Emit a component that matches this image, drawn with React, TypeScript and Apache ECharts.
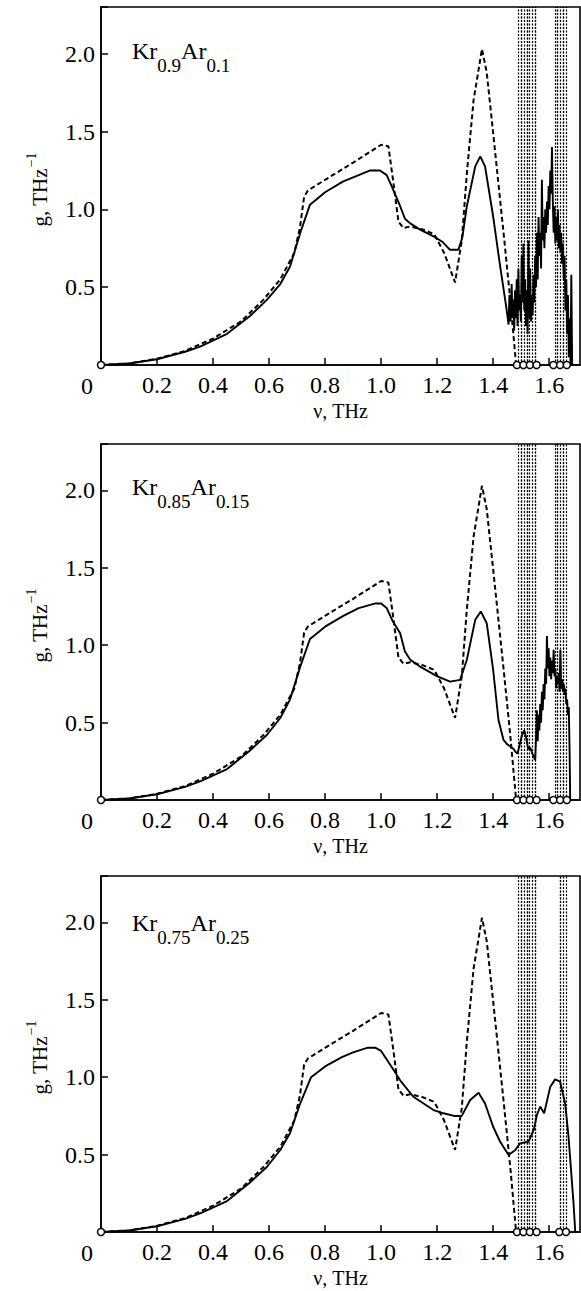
import React, { useEffect, useRef } from "react";
import * as echarts from "echarts";

const FONT = "'Liberation Serif','Times New Roman',serif";
const X_MAX = 1.71;
const Y_MAX = 2.3;

// composition labels
const compMain = ["Kr", "Ar"];
const compSubs = [
  ["0.9", "0.1"],
  ["0.85", "0.15"],
  ["0.75", "0.25"],
];

// dashed reference curve (same in all panels)
const nuRef = [0, 0.1, 0.2, 0.3, 0.4, 0.5, 0.58, 0.64, 0.69, 0.71, 0.725, 0.738, 0.8, 0.9, 1.0, 1.026, 1.044, 1.062, 1.08, 1.104, 1.15, 1.19, 1.225, 1.264, 1.288, 1.306, 1.33, 1.36, 1.377, 1.4, 1.437, 1.461, 1.482];
const gRef = [0, 0.01, 0.04, 0.09, 0.17, 0.28, 0.42, 0.55, 0.72, 0.88, 1.08, 1.12, 1.19, 1.3, 1.415, 1.405, 1.17, 0.92, 0.88, 0.89, 0.87, 0.84, 0.72, 0.53, 0.8, 1.23, 1.7, 2.03, 1.88, 1.49, 0.85, 0.42, 0];

// solid curve, Kr0.9Ar0.1
const nu1 = [0, 0.1, 0.2, 0.3, 0.354, 0.45, 0.532, 0.592, 0.64, 0.675, 0.711, 0.746, 0.8, 0.865, 0.92, 0.961, 0.996, 1.02, 1.038, 1.068, 1.085, 1.104, 1.139, 1.187, 1.22, 1.246, 1.276, 1.29, 1.306, 1.336, 1.354, 1.371, 1.4, 1.425, 1.443,
  1.45, 1.455, 1.458, 1.462, 1.466, 1.469, 1.472, 1.475, 1.478, 1.481, 1.484, 1.487, 1.49, 1.493, 1.496, 1.499, 1.502, 1.505, 1.508, 1.511, 1.514, 1.517, 1.52, 1.523, 1.526, 1.529, 1.532, 1.535, 1.538, 1.541, 1.544, 1.547, 1.55, 1.553, 1.556, 1.559, 1.562, 1.565, 1.568, 1.571, 1.574, 1.577, 1.58, 1.583, 1.586, 1.589, 1.592, 1.595, 1.598, 1.601, 1.604, 1.607, 1.61, 1.613, 1.616, 1.619, 1.622, 1.625, 1.628, 1.631, 1.634, 1.637, 1.64, 1.643, 1.646, 1.649, 1.652, 1.655, 1.658, 1.661, 1.664, 1.667, 1.67, 1.673, 1.676, 1.679, 1.682];
const g1 = [0, 0.01, 0.037, 0.085, 0.118, 0.2, 0.315, 0.418, 0.52, 0.633, 0.847, 1.03, 1.11, 1.18, 1.22, 1.25, 1.25, 1.22, 1.147, 1.02, 0.94, 0.91, 0.87, 0.826, 0.79, 0.74, 0.74, 0.82, 1.02, 1.276, 1.34, 1.276, 0.954, 0.633, 0.418,
  0.33, 0.26, 0.45, 0.28, 0.52, 0.3, 0.42, 0.22, 0.48, 0.3, 0.55, 0.25, 0.62, 0.35, 0.45, 0.28, 0.7, 0.4, 0.78, 0.35, 0.55, 0.25, 0.48, 0.2, 0.8, 0.3, 0.62, 0.28, 0.45, 0.32, 0.58, 0.4, 0.7, 0.5, 0.85, 0.55, 0.95, 0.7, 0.85, 0.62, 1.19, 0.8, 0.95, 0.75, 1.0, 0.85, 1.05, 0.9, 1.15, 1.0, 1.25, 1.1, 1.4, 1.05, 0.85, 1.02, 0.78, 0.95, 0.8, 1.0, 0.75, 0.9, 0.72, 0.85, 0.65, 0.78, 0.55, 0.7, 0.35, 0.55, 0.2, 0.45, 0.05, 0.3, 0, 0.58, 0];

// solid curve, Kr0.85Ar0.15
const nu2 = [0, 0.1, 0.2, 0.3, 0.354, 0.45, 0.532, 0.592, 0.64, 0.675, 0.711, 0.746, 0.8, 0.865, 0.92, 0.98, 1.0, 1.02, 1.04, 1.068, 1.085, 1.104, 1.139, 1.199, 1.246, 1.282, 1.306, 1.336, 1.356, 1.377, 1.4, 1.419, 1.437,
  1.45, 1.465, 1.473, 1.48, 1.487, 1.495, 1.503, 1.511, 1.518, 1.525, 1.532, 1.54, 1.547, 1.55, 1.553, 1.556, 1.559, 1.562, 1.565, 1.568, 1.571, 1.574, 1.577, 1.58, 1.583, 1.586, 1.589, 1.592, 1.595, 1.598, 1.601, 1.604, 1.607, 1.61, 1.613, 1.616, 1.619, 1.622, 1.625, 1.628, 1.631, 1.634, 1.637, 1.64, 1.643, 1.646, 1.649, 1.652, 1.655, 1.658, 1.661, 1.664, 1.667, 1.67, 1.673, 1.675];
const g2 = [0, 0.01, 0.037, 0.085, 0.12, 0.2, 0.32, 0.42, 0.53, 0.65, 0.86, 1.04, 1.12, 1.19, 1.24, 1.27, 1.27, 1.24, 1.16, 1.078, 0.96, 0.906, 0.862, 0.8, 0.765, 0.776, 0.906, 1.164, 1.218, 1.142, 0.84, 0.517, 0.388,
  0.36, 0.34, 0.33, 0.31, 0.3, 0.36, 0.42, 0.45, 0.4, 0.33, 0.34, 0.3, 0.27, 0.26, 0.4, 0.58, 0.38, 0.55, 0.45, 0.62, 0.5, 0.7, 0.58, 0.75, 0.65, 0.85, 0.75, 1.06, 0.85, 0.98, 0.8, 0.92, 0.78, 0.9, 0.82, 0.97, 0.8, 0.85, 0.72, 0.8, 0.75, 0.82, 0.7, 0.97, 0.72, 0.78, 0.7, 0.75, 0.68, 0.72, 0.62, 0.65, 0.55, 0.6, 0.3, 0];

// solid curve, Kr0.75Ar0.25
const nu3 = [0, 0.1, 0.2, 0.3, 0.354, 0.45, 0.532, 0.592, 0.64, 0.675, 0.711, 0.75, 0.8, 0.86, 0.9, 0.95, 0.98, 1.0, 1.04, 1.068, 1.115, 1.187, 1.223, 1.264, 1.288, 1.318, 1.348, 1.371, 1.4, 1.425, 1.455, 1.479, 1.496, 1.526, 1.545, 1.556, 1.568, 1.582, 1.604, 1.621, 1.639, 1.657, 1.669, 1.687, 1.693];
const g3 = [0, 0.01, 0.037, 0.085, 0.12, 0.2, 0.32, 0.42, 0.53, 0.64, 0.83, 1.0, 1.07, 1.13, 1.16, 1.19, 1.19, 1.17, 1.06, 0.98, 0.874, 0.788, 0.767, 0.749, 0.75, 0.853, 0.9, 0.83, 0.68, 0.583, 0.497, 0.53, 0.573, 0.583, 0.66, 0.756, 0.81, 0.767, 0.939, 0.986, 0.971, 0.83, 0.616, 0.185, 0];

// dotted vertical lines (frequencies)
const dotted1 = [1.49, 1.497, 1.504, 1.511, 1.518, 1.525, 1.533, 1.54, 1.547, 1.554, 1.618, 1.625, 1.632, 1.639, 1.646, 1.654, 1.661];
const dotted2 = [1.49, 1.497, 1.504, 1.511, 1.518, 1.525, 1.533, 1.54, 1.547, 1.554, 1.618, 1.625, 1.632, 1.639, 1.646, 1.654, 1.661];
const dotted3 = [1.49, 1.497, 1.504, 1.511, 1.518, 1.525, 1.533, 1.54, 1.547, 1.554, 1.635, 1.641, 1.647, 1.663];

// open circles on the axis
const circles1 = [0, 1.485, 1.508, 1.531, 1.555, 1.615, 1.639, 1.663];
const circles2 = [0, 1.485, 1.508, 1.531, 1.555, 1.615, 1.639, 1.663];
const circles3 = [0, 1.485, 1.508, 1.531, 1.555, 1.636, 1.66];

const solidNu = [nu1, nu2, nu3];
const solidG = [g1, g2, g3];
const dottedAll = [dotted1, dotted2, dotted3];
const circlesAll = [circles1, circles2, circles3];

// layout (pixels)
const LEFT = 101;
const WIDTH = 479;
const TOPS = [7, 444, 876];
const HEIGHTS = [358, 356, 356];
const BASE_DY = [5, 5, 9];
const MAIN_FS = 24;
const SUB_FS = 19;

const zip = (a: number[], b: number[]) => a.map((v, i) => [v, b[i]]);

let measureCtx: CanvasRenderingContext2D | null = null;
function textWidth(t: string, size: number) {
  if (!measureCtx) measureCtx = document.createElement("canvas").getContext("2d");
  if (!measureCtx) return t.length * size * 0.5;
  measureCtx.font = `${size}px ${FONT}`;
  return measureCtx.measureText(t).width;
}

function txt(x: number, y: number, text: string, size: number, align = "left", rotation = 0) {
  return {
    type: "text", x, y, rotation, silent: true,
    style: { text, fill: "#000", fontFamily: FONT, fontSize: size, align, verticalAlign: "middle" },
  };
}

export default function App() {
  const ref = useRef<HTMLDivElement>(null);
  useEffect(() => {
    if (!ref.current) return;
    const chart = echarts.init(ref.current, null, { renderer: "svg" });
    const grids: any[] = [];
    const xAxes: any[] = [];
    const yAxes: any[] = [];
    const series: any[] = [];
    const graphic: any[] = [];
    for (let i = 0; i < 3; i++) {
      grids.push({
        left: LEFT, top: TOPS[i], width: WIDTH, height: HEIGHTS[i],
        show: true, borderColor: "#000", borderWidth: 1.6, backgroundColor: "transparent",
      });
      xAxes.push({
        type: "value", gridIndex: i, min: 0, max: X_MAX, interval: 0.2,
        axisLine: { show: true, onZero: false, lineStyle: { color: "#000", width: 1.6 } },
        axisTick: { show: true, inside: true, length: 7, lineStyle: { color: "#000", width: 1.5 } },
        splitLine: { show: false },
        axisLabel: {
          color: "#000", fontFamily: FONT, fontSize: 24, margin: 8,
          showMaxLabel: false,
          formatter: (v: number) => {
            const k = Math.round(v / 0.2);
            if (k === 0 || Math.abs(v - k * 0.2) > 1e-6) return "";
            return (k * 0.2).toFixed(1);
          },
        },
      });
      yAxes.push({
        type: "value", gridIndex: i, min: 0, max: Y_MAX, interval: 0.5,
        axisLine: { show: true, onZero: false, lineStyle: { color: "#000", width: 1.6 } },
        axisTick: { show: true, inside: true, length: 7, lineStyle: { color: "#000", width: 1.5 } },
        splitLine: { show: false },
        axisLabel: {
          color: "#000", fontFamily: FONT, fontSize: 24, margin: 6,
          formatter: (v: number) => {
            const k = Math.round(v / 0.5);
            if (k === 0 || Math.abs(v - k * 0.5) > 1e-6) return "";
            return (k * 0.5).toFixed(1);
          },
        },
      });
      series.push({
        type: "line", xAxisIndex: i, yAxisIndex: i, data: zip(nuRef, gRef),
        showSymbol: false, symbol: "none", silent: true,
        lineStyle: { color: "#000", width: 2, type: [5, 3] },
      });
      series.push({
        type: "line", xAxisIndex: i, yAxisIndex: i, data: zip(solidNu[i], solidG[i]),
        showSymbol: false, symbol: "none", silent: true,
        lineStyle: { color: "#000", width: 1.9 },
      });
      series.push({
        type: "scatter", xAxisIndex: i, yAxisIndex: i, clip: false, silent: true, z: 5,
        data: circlesAll[i].map((v) => [v, 0]),
        symbol: "circle", symbolSize: 7,
        itemStyle: { color: "#fff", borderColor: "#000", borderWidth: 1.5, opacity: 1 },
        markLine: {
          silent: true, symbol: "none", animation: false,
          label: { show: false },
          lineStyle: { color: "#000", width: 1.2, type: [2, 1.5], opacity: 1 },
          data: dottedAll[i].map((v) => ({ xAxis: v })),
        },
      });
      const top = TOPS[i];
      const axisY = top + HEIGHTS[i];
      const tick2 = axisY - (2.0 / Y_MAX) * HEIGHTS[i];
      // composition label with subscripts
      const base = tick2 + BASE_DY[i];
      const mainY = base - 0.34 * MAIN_FS;
      const subY = base + 13 - 0.34 * SUB_FS;
      let cx = 132;
      for (let k = 0; k < 2; k++) {
        graphic.push(txt(cx, mainY, compMain[k], MAIN_FS));
        cx += textWidth(compMain[k], MAIN_FS);
        graphic.push(txt(cx, subY, compSubs[i][k], SUB_FS));
        cx += textWidth(compSubs[i][k], SUB_FS);
      }
      // "0" at origin
      graphic.push(txt(87, axisY + 21, "0", 24, "center"));
      // x axis name
      graphic.push(txt(LEFT + WIDTH / 2, axisY + 46, "ν, THz", 20, "center"));
      // y axis name (rotated, with superscript)
      const yName = "g, THz";
      const ySup = "−1";
      const wN = textWidth(yName, 21);
      const wS = textWidth(ySup, 14);
      const cy = (top + axisY) / 2 + 4;
      const startY = cy + (wN + wS) / 2;
      graphic.push(txt(40, startY - wN / 2, yName, 21, "center", Math.PI / 2));
      graphic.push(txt(31, startY - wN - wS / 2 - 1, ySup, 14, "center", Math.PI / 2));
    }
    chart.setOption({
      animation: false,
      backgroundColor: "#fff",
      grid: grids,
      xAxis: xAxes,
      yAxis: yAxes,
      series,
      graphic,
    });
    return () => chart.dispose();
  }, []);
  return (
    <div
      ref={ref}
      style={{ position: "absolute", left: 0, top: 0, width: 581, height: 1291, background: "#fff" }}
    />
  );
}
